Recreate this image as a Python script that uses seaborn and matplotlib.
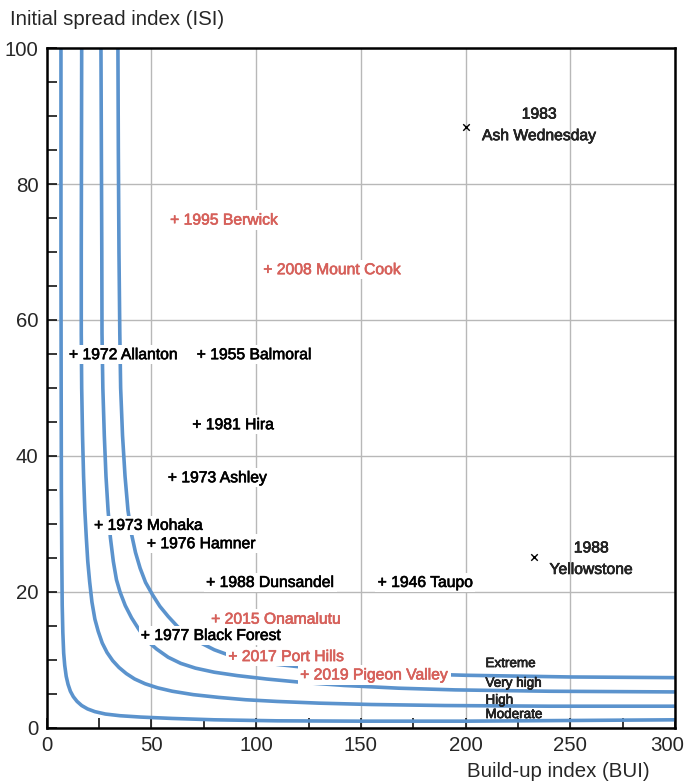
import pandas as pd
import numpy as np
import matplotlib
matplotlib.use("Agg")
import matplotlib.pyplot as plt
import matplotlib.patheffects as pe
import seaborn as sns
from matplotlib.ticker import MultipleLocator, FuncFormatter

# fire danger class boundaries (BUI, ISI)
moderate_bui = [6.8, 6.8, 6.9, 7.0, 7.2, 7.4, 7.7, 8.1, 8.6, 9.3, 10.2, 11.3, 12.7, 14.5, 16.7, 19.5,
                23, 28, 35, 45, 60, 80, 110, 150, 200, 250, 300]
moderate_isi = [100, 70, 50, 35, 25, 18, 14, 11, 9.2, 7.6, 6.4, 5.4, 4.6, 3.9, 3.3, 2.8,
                2.4, 2.05, 1.8, 1.6, 1.4, 1.2, 1.05, 1.0, 1.0, 1.1, 1.2]

high_bui = [16.7, 16.6, 16.5, 16.5, 16.7, 17.1, 17.6, 18.2, 18.9, 19.6, 20.5, 21.6, 23, 24.6, 26.5,
            28.8, 31.5, 34.5, 38, 42, 47, 53, 60, 70, 82, 95, 110, 130, 155, 190, 240, 300]
high_isi = [100, 85, 70, 58, 50, 43, 37, 32, 28, 24.5, 21.5, 18.5, 16, 14.2, 12.5,
            11.1, 9.9, 8.9, 8.0, 7.2, 6.5, 5.9, 5.4, 4.9, 4.5, 4.15, 3.9, 3.65, 3.45, 3.3, 3.2, 3.2]

veryhigh_bui = [25.9, 26.1, 26.3, 26.4, 26.8, 27.5, 28.3, 29.3, 30.4, 31.8, 33.3, 35, 37.5, 40.5, 44,
                48, 52.5, 58, 64, 71, 80, 91, 105, 122, 142, 168, 195, 240, 300]
veryhigh_isi = [100, 85, 70, 58, 50, 43, 37, 32, 28, 24.5, 21.8, 20.0, 18.0, 16.2, 14.5,
                12.8, 11.6, 10.4, 9.5, 8.8, 8.2, 7.7, 7.2, 6.7, 6.25, 5.85, 5.6, 5.4, 5.3]

extreme_bui = [34.0, 34.2, 34.5, 34.9, 35.3, 36.2, 37.4, 38.8, 40.5, 42.4, 44.6, 47.2, 50.5, 54, 58,
               62.5, 67.5, 73, 80, 88, 98, 110, 125, 145, 170, 200, 250, 300]
extreme_isi = [100, 85, 70, 58, 50, 43, 37, 32, 28.5, 25.8, 23.5, 21.4, 19.6, 17.9, 16.4,
               14.9, 13.7, 12.6, 11.5, 10.6, 9.9, 9.35, 8.85, 8.4, 8.0, 7.75, 7.5, 7.4]

class_names = ["Extreme", "Very high", "High", "Moderate"]
class_label_bui = [209.5, 209.5, 209.5, 209.5]
class_label_isi = [9.4, 6.5, 4.0, 1.9]

# historic fires
event_names = ["1995 Berwick", "2008 Mount Cook", "1972 Allanton", "1955 Balmoral", "1981 Hira",
               "1973 Ashley", "1973 Mohaka", "1976 Hamner", "1988 Dunsandel", "1946 Taupo",
               "2015 Onamalutu", "1977 Black Forest", "2017 Port Hills", "2019 Pigeon Valley"]
event_bui = [61.1, 105.6, 12.8, 73.8, 71.7, 60.0, 24.8, 50.0, 78.3, 160.2, 80.7, 47.1, 88.9, 123.2]
event_isi = [74.7, 67.4, 54.9, 54.9, 44.6, 36.8, 29.8, 27.1, 21.4, 21.4, 16.0, 13.6, 10.5, 7.8]
event_recent = [True, True, False, False, False, False, False, False, False, False, True, False, True, True]

# overseas fires
big_names = ["1983\nAsh Wednesday", "1988\nYellowstone"]
big_bui = [200.2, 232.7]
big_isi = [88.4, 25.2]
big_label_bui = [235.2, 260.0]
big_label_isi = [88.7, 24.9]

blue = "#5b93cd"
red = "#d6605a"

sns.set_style("white")
plt.rcParams["font.family"] = ["Liberation Sans", "DejaVu Sans"]

curves = pd.concat([
    pd.DataFrame({"BUI": moderate_bui, "ISI": moderate_isi, "cls": "Moderate"}),
    pd.DataFrame({"BUI": high_bui, "ISI": high_isi, "cls": "High"}),
    pd.DataFrame({"BUI": veryhigh_bui, "ISI": veryhigh_isi, "cls": "Very high"}),
    pd.DataFrame({"BUI": extreme_bui, "ISI": extreme_isi, "cls": "Extreme"}),
])

fig = plt.figure(figsize=(6.85, 7.82), dpi=100)
ax = fig.add_axes([0.0682, 0.0691, 0.9172, 0.8695])

sns.lineplot(data=curves, x="BUI", y="ISI", hue="cls", units="cls", estimator=None, sort=False,
             palette=[blue] * 4, linewidth=2.6, legend=False, ax=ax, zorder=2)

big_df = pd.DataFrame({"BUI": big_bui, "ISI": big_isi})
sns.scatterplot(data=big_df, x="BUI", y="ISI", marker="x", s=22, color="black", linewidth=1.0, ax=ax, zorder=4)

# slightly heavier text, like the medium weight in the original
def thick(c):
    return [pe.withStroke(linewidth=0.45, foreground=c)]

for name, bx, by in zip(big_names, big_label_bui, big_label_isi):
    ax.text(bx, by, name, ha="center", va="center", fontsize=11.3, linespacing=1.55, zorder=4,
            path_effects=thick("black"))

for name, bx, by, recent in zip(event_names, event_bui, event_isi, event_recent):
    col = red if recent else "black"
    ax.annotate("+ " + name, xy=(bx, by), xytext=(-3.3, 0), textcoords="offset points",
                ha="left", va="center", fontsize=11.3, color=col,
                bbox=dict(facecolor="white", edgecolor="none", pad=1.6), zorder=3,
                path_effects=thick(col))

for name, bx, by in zip(class_names, class_label_bui, class_label_isi):
    ax.text(bx, by, name, ha="left", va="center", fontsize=9.7, zorder=4, path_effects=thick("black"))

ax.set_xlim(0, 300)
ax.set_ylim(0, 100)
ax.xaxis.set_major_locator(MultipleLocator(50))
ax.xaxis.set_minor_locator(MultipleLocator(25))
ax.yaxis.set_major_locator(MultipleLocator(20))
ax.yaxis.set_minor_locator(MultipleLocator(5))
# the 300 label is drawn separately, nudged left so it stays inside the figure
ax.xaxis.set_major_formatter(FuncFormatter(lambda v, p: "" if v >= 300 else f"{v:.0f}"))
ax.tick_params(which="both", direction="in", length=7, width=1.1, color="black",
               top=False, right=False, bottom=True, left=True)
ax.tick_params(axis="x", which="major", labelsize=14.7, pad=6)
ax.tick_params(axis="y", which="major", labelsize=14.7, pad=6)
ax.grid(True, which="major", color="#b8b8b8", linewidth=1.0)
ax.set_axisbelow(True)
for s in ax.spines.values():
    s.set_color("black")
    s.set_linewidth(1.8)
ax.set_xlabel("")
ax.set_ylabel("")
ax.annotate("300", xy=(300, 0), xytext=(-6, -6), textcoords="offset points",
            ha="center", va="top", fontsize=14.7, annotation_clip=False)

fig.text(10 / 685, 1 - 25 / 782, "Initial spread index (ISI)", ha="left", va="baseline", fontsize=14.7)
fig.text(650 / 685, 1 - 777 / 782, "Build-up index (BUI)", ha="right", va="baseline", fontsize=14.7)

fig.savefig("out.png", dpi=100)
